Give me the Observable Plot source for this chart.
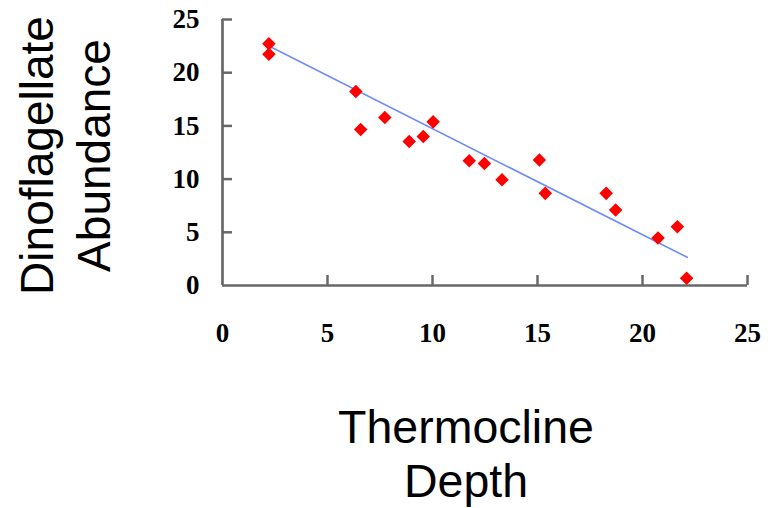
<!DOCTYPE html>
<html><head><meta charset="utf-8">
<script src="https://cdn.jsdelivr.net/npm/d3@7"></script>
<script src="https://cdn.jsdelivr.net/npm/@observablehq/plot@0.6"></script>
<style>body{margin:0;background:#fff}</style>
</head><body><div id="chart"></div>
<script>
const depth =     [2.21, 2.21, 6.35, 6.58, 7.73, 8.89, 9.56, 10.03, 11.75, 12.47, 13.31, 15.09, 15.37, 18.27, 18.72, 20.74, 21.66, 22.10];
const abundance = [22.73, 21.73, 18.23, 14.66, 15.79, 13.54, 14.00, 15.38, 11.73, 11.47, 9.94, 11.79, 8.66, 8.66, 7.10, 4.47, 5.53, 0.69];
const fitDepth = [2.05, 22.13];
const fitAbundance = [22.67, 2.65];
const xTicks = [0, 5, 10, 15, 20, 25];
const yTicks = [0, 5, 10, 15, 20, 25];
const xTitle = "Thermocline\nDepth";
const yTitle = "Dinoflagellate\nAbundance";

const W = 773, H = 508, mL = 222, mR = 26, mT = 19, mB = 223;
const frameW = W - mL - mR, frameH = H - mT - mB;
const axisColor = "#686868";
const sans = "'Liberation Sans', Arial, sans-serif";
const points = depth.map((d, i) => ({depth: d, abundance: abundance[i]}));
const fit = fitDepth.map((d, i) => ({depth: d, abundance: fitAbundance[i]}));

const chart = Plot.plot({
  width: W, height: H,
  marginLeft: mL, marginRight: mR, marginTop: mT, marginBottom: mB,
  x: {domain: [0, 25]},
  y: {domain: [0, 25]},
  style: {fontFamily: "'Liberation Serif', 'Times New Roman', serif", background: "#fff", overflow: "visible"},
  marks: [
    Plot.axisX({ticks: xTicks, tickSize: 0, tickPadding: 37, fontSize: 27, fontWeight: "bold", label: null}),
    Plot.axisY({ticks: yTicks, tickSize: 0, tickPadding: 23, fontSize: 27, fontWeight: "bold", label: null}),
    Plot.tickX(xTicks.slice(1), {x: d => d, insetTop: frameH - 10, stroke: axisColor, strokeWidth: 2.5}),
    Plot.tickY(yTicks.slice(1), {y: d => d, insetRight: frameW - 10, stroke: axisColor, strokeWidth: 2.5}),
    Plot.ruleY([0], {stroke: axisColor, strokeWidth: 2.7}),
    Plot.ruleX([0], {stroke: axisColor, strokeWidth: 2.7}),
    Plot.line(fit, {x: "depth", y: "abundance", stroke: "#6e8cf5", strokeWidth: 1.6}),
    Plot.dot(points, {x: "depth", y: "abundance", symbol: "diamond2", r: 6.1, fill: "#ff0000", stroke: "none"}),
    Plot.text([xTitle], {text: d => d, frameAnchor: "bottom", textAnchor: "middle", dx: -19, dy: 120, lineAnchor: "top", lineHeight: 1.15, fontSize: 46.5, fontFamily: sans, fill: "#000"}),
    Plot.text([yTitle], {text: d => d, frameAnchor: "left", textAnchor: "middle", rotate: -90, dx: -210, dy: 3, lineAnchor: "top", lineHeight: 1.24, fontSize: 46, fontFamily: sans, fill: "#000"})
  ]
});
document.getElementById("chart").appendChild(chart);
</script>
</body></html>
